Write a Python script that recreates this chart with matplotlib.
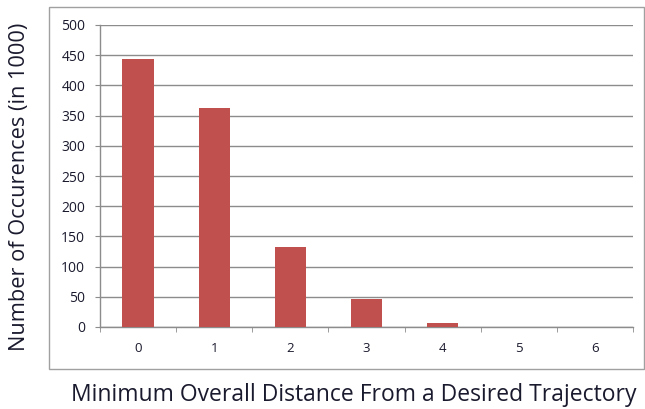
import numpy as np
import matplotlib
matplotlib.use('Agg')
from matplotlib import pyplot as plt
from matplotlib.patches import Rectangle

plt.rcParams['font.family'] = ['Open Sans', 'DejaVu Sans']

distances = [0, 1, 2, 3, 4, 5, 6]
occurrences = [444, 362, 132, 46, 7, 0, 0]
y_ticks = [0, 50, 100, 150, 200, 250, 300, 350, 400, 450, 500]

bar_color = '#C0504D'
grid_color = '#8C8C8C'
text_color = '#1A1A2E'

fig = plt.figure(figsize=(6.45, 4.09), dpi=100)
ax = fig.add_axes([100/645, 1 - 327/409, (633-100)/645, (327-25)/409])

x = np.arange(len(distances))
ax.bar(x, occurrences, width=0.41, color=bar_color, zorder=3)

ax.set_xlim(-0.5, len(distances) - 0.5)
ax.set_ylim(0, 500)
ax.set_yticks(y_ticks)
ax.yaxis.grid(True, color=grid_color, linewidth=1.0, zorder=0)

ax.set_xticks(x)
ax.set_xticklabels([str(d) for d in distances], fontsize=9.5, color=text_color)
ax.set_xticks(np.arange(-0.5, len(distances)), minor=True)
ax.tick_params(axis='x', which='major', length=0, pad=11)
ax.tick_params(axis='x', which='minor', length=3.6, color=grid_color, direction='out')
ax.tick_params(axis='y', length=3.6, color=grid_color, labelsize=10,
               labelcolor=text_color, pad=7)

for s in ['top', 'right']:
    ax.spines[s].set_visible(False)
for s in ['left', 'bottom']:
    ax.spines[s].set_color(grid_color)
    ax.spines[s].set_linewidth(1.0)

# outer chart-area border
fig.patches.append(Rectangle((49/645, 1 - 369/409), (644-49)/645, (369-7)/409,
                             transform=fig.transFigure, fill=False,
                             edgecolor='#A0A0A0', linewidth=1.0))

fig.text(354/645, 1 - 395/409, 'Minimum Overall Distance From a Desired Trajectory',
         ha='center', va='center', fontsize=16.5, color=text_color)
fig.text(20/645, 1 - 187/409, 'Number of Occurences (in 1000)',
         ha='center', va='center', rotation=90, fontsize=15.7, color=text_color)

fig.savefig('out.png', dpi=100)
